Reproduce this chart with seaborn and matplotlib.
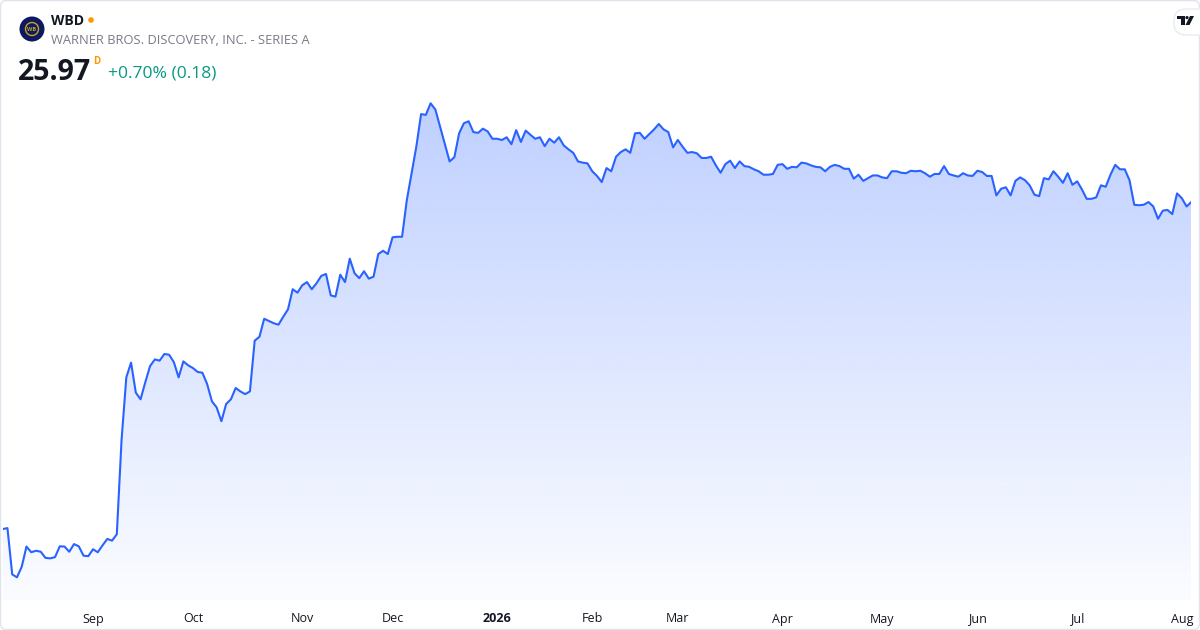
import numpy as np
import pandas as pd
import seaborn as sns
import matplotlib.pyplot as plt
from matplotlib.patches import Circle, FancyBboxPatch, Rectangle, Polygon

# daily closes, WBD, early Aug 2025 -> early Aug 2026
prices = [
    12.69, 12.73, 10.85, 10.73, 11.16, 11.98, 11.75, 11.81, 11.77, 11.52,
    11.50, 11.55, 11.99, 11.98, 11.77, 12.08, 11.99, 11.61, 11.59, 11.87,
    11.75, 12.03, 12.29, 12.22, 12.48, 16.31, 18.85, 19.45, 18.23, 17.96,
    18.66, 19.31, 19.58, 19.53, 19.80, 19.77, 19.47, 18.85, 19.50, 19.34,
    19.23,
    19.07, 19.04, 18.58, 17.88, 17.63, 17.07, 17.77, 17.96, 18.42, 18.28,
    18.17, 18.28, 20.34, 20.50, 21.23, 21.14, 21.05, 20.99, 21.31, 21.61,
    22.43, 22.29, 22.59, 22.72, 22.43, 22.67, 22.97, 23.05, 22.18, 22.13,
    23.02, 22.72, 23.67, 23.08, 22.88, 23.16, 22.86, 22.94, 23.86, 23.99,
    23.86, 24.54, 24.56,
    24.56, 26.05, 27.14, 28.22, 29.54, 29.51, 29.98, 29.73, 29.03, 28.32,
    27.62, 27.79, 28.76, 29.17, 29.25, 28.81, 28.78, 28.95, 28.84, 28.54,
    28.54, 28.49, 28.60, 28.32, 28.89, 28.41, 28.87, 28.70, 28.54, 28.60,
    28.24, 28.54, 28.38, 28.60, 28.27, 28.11, 27.97, 27.62, 27.57, 27.54,
    27.22, 27.03,
    26.78, 27.35, 27.22, 27.81, 28.00, 28.11, 27.97, 28.76, 28.78, 28.54,
    28.73, 28.92, 29.14, 28.92, 28.81, 28.19, 28.49, 28.22, 27.97, 28.00,
    27.95, 27.76, 27.76, 27.81, 27.46, 27.16, 27.51, 27.65, 27.35, 27.62,
    27.43, 27.40, 27.30, 27.22, 27.08, 27.08, 27.11, 27.48, 27.51, 27.32,
    27.40, 27.38,
    27.57, 27.54, 27.46, 27.40, 27.38, 27.22, 27.40, 27.48, 27.43, 27.32,
    27.32, 26.92, 27.08, 26.83, 26.94, 27.05, 27.05, 26.97, 26.94, 27.22,
    27.22, 27.16, 27.14, 27.24, 27.22, 27.24, 27.14, 27.00, 27.11, 27.11,
    27.43, 27.11, 27.05, 27.00, 27.14, 27.05, 27.03, 27.24, 27.19, 27.03,
    27.03, 26.24,
    26.51, 26.57, 26.24, 26.83, 26.97, 26.86, 26.65, 26.27, 26.21, 26.94,
    26.89, 27.22, 27.00, 26.75, 27.14, 26.67, 26.81, 26.48, 26.10, 26.10,
    26.16, 26.65, 26.59, 27.08, 27.48, 27.30, 27.30, 26.86, 25.86, 25.84,
    25.86, 25.97, 25.79, 25.29, 25.62, 25.65, 25.48, 26.32, 26.13, 25.79,
    25.97,
]

month_labels = ["Sep", "Oct", "Nov", "Dec", "2026", "Feb", "Mar", "Apr",
                "May", "Jun", "Jul", "Aug"]
month_pos = [19, 40, 63, 82, 104, 124, 142, 164, 185, 205, 226, 248]

ticker = "WBD"
company = "WARNER BROS. DISCOVERY, INC. - SERIES A"
last_price = "25.97"
change_txt = "+0.70% (0.18)"

LINE = "#2962ff"
W, H = 1200, 630

df = pd.DataFrame({"day": np.arange(len(prices)), "close": prices})

sns.set_theme(style="white")
plt.rcParams["font.family"] = ["Open Sans", "DejaVu Sans"]

fig = plt.figure(figsize=(W / 100, H / 100), dpi=100)
fig.patch.set_facecolor("white")

# main chart area, in pixel terms: x 2.7..1191, y 90..600
ax = fig.add_axes([2.7 / W, 30 / H, (1191.3 - 2.7) / W, 510 / H])
ax.set_facecolor("none")
ymin, ymax = 9.81, 30.52
ax.set_xlim(0, len(prices) - 1)
ax.set_ylim(ymin, ymax)

# gradient area under the line
poly = ax.fill_between(df["day"], df["close"], ymin, color="none", lw=0)
grad = np.zeros((256, 1, 4))
grad[:, 0, 0] = 41 / 255
grad[:, 0, 1] = 98 / 255
grad[:, 0, 2] = 1.0
grad[:, 0, 3] = np.linspace(0.30, 0.02, 256)
top = max(prices)
im = ax.imshow(grad, aspect="auto", origin="upper",
               extent=[0, len(prices) - 1, ymin, top], zorder=1)
im.set_clip_path(poly.get_paths()[0], transform=ax.transData)

sns.lineplot(data=df, x="day", y="close", ax=ax, color=LINE, lw=1.5, zorder=3)

ax.set_xlabel("")
ax.set_ylabel("")
ax.set_yticks([])
ax.set_xticks(month_pos)
ax.set_xticklabels(month_labels, fontsize=9, color="#131722")
ax.tick_params(axis="x", length=0, pad=9)
for lab in ax.get_xticklabels():
    if lab.get_text() == "2026":
        lab.set_fontweight("bold")
for s in ax.spines.values():
    s.set_visible(False)

# overlay for header, border and logos (pixel coordinates)
ov = fig.add_axes([0, 0, 1, 1], zorder=5)
ov.set_xlim(0, W)
ov.set_ylim(H, 0)
ov.axis("off")
ov.patch.set_alpha(0)

ov.add_patch(FancyBboxPatch((0.5, 0.5), W - 1, H - 1,
                            boxstyle="round,pad=0,rounding_size=6",
                            fc="none", ec="#e0e3eb", lw=1))

# company logo
ov.add_patch(Circle((32, 29), 12.5, fc="#0d1a5e", ec="none"))
ov.add_patch(Circle((32, 29), 6.5, fc="none", ec="#c9a227", lw=1))
ov.text(32, 29.5, "WB", fontsize=4, color="#c9a227", ha="center",
        va="center", fontweight="bold")

ov.text(51, 21, ticker, fontsize=10, fontweight="bold", color="#131722",
        va="center", ha="left")
ov.add_patch(Circle((91, 20), 2.8, fc="#ff9800", ec="none"))
ov.text(51, 40, company, fontsize=9.3, color="#787b86", va="center", ha="left")

ov.text(18, 72, last_price, fontsize=20.5, fontweight="bold", color="#131722",
        va="center", ha="left")
ov.text(93, 61, "D", fontsize=7, fontweight="bold", color="#ff9800",
        va="center", ha="left")
ov.text(108, 74, change_txt, fontsize=12.6, color="#089981",
        va="center", ha="left")

# TradingView badge, top right
ov.add_patch(FancyBboxPatch((1174, 9), 40, 26,
                            boxstyle="round,pad=0,rounding_size=12",
                            fc="white", ec="#e9ebf0", lw=1))
ov.add_patch(Rectangle((1176.5, 16), 8, 3, fc="#131722", ec="none"))
ov.add_patch(Rectangle((1180.5, 16), 4, 9, fc="#131722", ec="none"))
ov.add_patch(Circle((1187, 17.6), 1.6, fc="#131722", ec="none"))
ov.add_patch(Polygon([(1190, 16), (1194, 16), (1189.5, 25), (1185.5, 25)],
                     closed=True, fc="#131722", ec="none"))

fig.savefig("out.png", dpi=100, facecolor="white")
